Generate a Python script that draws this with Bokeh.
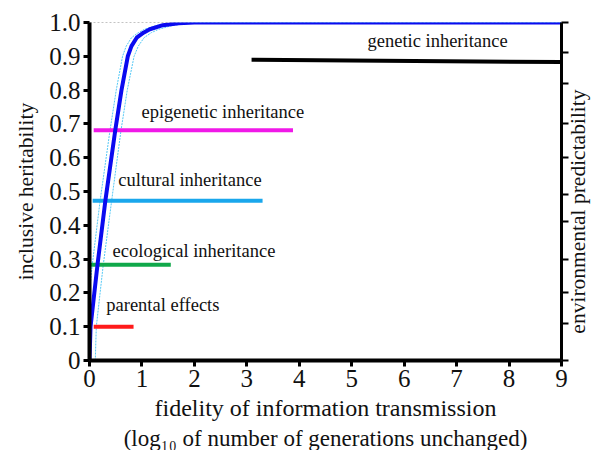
import math
from bokeh.plotting import figure
from bokeh.models import (LinearAxis, FixedTicker, Range1d, Title, ColumnDataSource)
from bokeh.core.properties import value
from bokeh.embed import file_html
from bokeh.resources import INLINE

# ---- data ----
curve_x = [0.0, 0.02, 0.15, 0.30, 0.49, 0.61, 0.73, 0.80, 0.90, 1.03, 1.15, 1.4, 1.7, 2.0, 3.0, 9.0]
curve_y = [0.0, 0.10, 0.28, 0.47, 0.68, 0.80, 0.90, 0.93, 0.955, 0.97, 0.98, 0.992, 0.998, 1.0, 1.0, 1.0]

upper_x = [0.0, 0.05, 0.20, 0.39, 0.51, 0.63, 0.70, 0.80, 0.93, 1.05, 1.3, 1.6, 2.0, 9.0]
upper_y = [0.20, 0.28, 0.47, 0.68, 0.80, 0.90, 0.93, 0.955, 0.97, 0.98, 0.992, 0.998, 1.0, 1.0]

lower_x = [0.11, 0.13, 0.26, 0.42, 0.60, 0.72, 0.85, 0.93, 1.04, 1.18, 1.32, 1.6, 1.95, 2.4, 3.2, 9.0]
lower_y = [0.0, 0.10, 0.28, 0.47, 0.68, 0.80, 0.90, 0.93, 0.955, 0.97, 0.98, 0.992, 0.998, 1.0, 1.0, 1.0]

mech_names = ["parental effects", "ecological inheritance", "cultural inheritance",
              "epigenetic inheritance", "genetic inheritance"]
mech_x0 = [0.08, 0.02, 0.06, 0.08, 3.09]
mech_x1 = [0.84, 1.55, 3.30, 3.88, 8.99]
mech_y0 = [0.10, 0.283, 0.473, 0.681, 0.890]
mech_y1 = [0.10, 0.283, 0.473, 0.681, 0.883]
mech_colors = ["#ff1a1a", "#10a84a", "#1aa7ec", "#f018e8", "#000000"]
label_x = [0.32, 0.44, 0.55, 0.99, 5.30]
label_y = [0.165, 0.325, 0.535, 0.735, 0.945]

y_ticks = [0, 0.1, 0.2, 0.3, 0.4, 0.5, 0.6, 0.7, 0.8, 0.9, 1.0]
x_ticks = [0, 1, 2, 3, 4, 5, 6, 7, 8, 9]
env_ticks = [0, 0.11, 0.2, 0.3, 0.41, 0.49, 0.6, 0.7, 0.82, 0.91, 1.0]

FONT = "Liberation Serif"

p = figure(width=604, height=450, x_range=Range1d(0, 9), y_range=Range1d(0, 1.0),
           output_backend="svg", toolbar_location=None,
           min_border_left=89, min_border_right=42, min_border_top=22, min_border_bottom=30)
p.outline_line_color = None
p.grid.visible = False
p.background_fill_color = "white"
p.border_fill_color = "white"

# dotted reference at 1.0
p.line([0, 9], [1.0, 1.0], line_color="#888888", line_width=1, line_dash="2 2")

# confidence band lines
p.line(upper_x, upper_y, line_color="#55c8f5", line_width=1, line_dash="2 1")
p.line(lower_x, lower_y, line_color="#55c8f5", line_width=1, line_dash="2 1")

# mechanism lines
src = ColumnDataSource(dict(x0=mech_x0, x1=mech_x1, y0=mech_y0, y1=mech_y1, c=mech_colors,
                            lx=label_x, ly=label_y, name=mech_names))
p.segment(x0="x0", y0="y0", x1="x1", y1="y1", line_color="c", line_width=4, source=src)

# main curve
p.line(curve_x, curve_y, line_color="#0a0af0", line_width=4)

p.text(x="lx", y="ly", text="name", source=src, text_font=value(FONT),
       text_font_size="18.5px", text_color="#111111", text_align="left", text_baseline="middle")

# axes styling
for ax in [p.xaxis[0], p.yaxis[0]]:
    ax.axis_line_width = 4
    ax.axis_line_color = "black"
    ax.major_tick_line_width = 3
    ax.major_tick_line_color = "black"
    ax.minor_tick_line_color = None
    ax.major_tick_in = 0
    ax.major_tick_out = 6
    ax.major_label_text_font = FONT
    ax.major_label_text_font_size = "25px"
    ax.major_label_text_color = "#111111"
    ax.axis_label_text_font = FONT
    ax.axis_label_text_font_style = "normal"
    ax.axis_label_text_color = "#111111"

p.xaxis[0].ticker = FixedTicker(ticks=x_ticks)
p.yaxis[0].ticker = FixedTicker(ticks=y_ticks)
p.yaxis[0].major_label_overrides = {0: "0", 1: "1.0"}
p.xaxis[0].major_label_standoff = 3
p.yaxis[0].major_label_standoff = 3
p.yaxis[0].axis_label = "inclusive heritability"
p.yaxis[0].axis_label_text_font_size = "21.5px"
p.yaxis[0].axis_label_standoff = 8
p.xaxis[0].axis_label = "fidelity of information transmission"
p.xaxis[0].axis_label_text_font_size = "24px"
p.xaxis[0].axis_label_standoff = 5

t2 = Title(text="(log\u2081\u2080 of number of generations unchanged)", align="center",
           text_font=FONT, text_font_size="23px", text_font_style="normal",
           text_color="#111111", standoff=0)
p.add_layout(t2, "below")

# right axis (visible line and ticks)
ra = LinearAxis(ticker=FixedTicker(ticks=env_ticks))
ra.axis_line_width = 3
ra.axis_line_color = "black"
ra.major_tick_line_width = 2
ra.major_tick_in = 0
ra.major_tick_out = 7
ra.minor_tick_line_color = None
ra.major_label_text_font_size = "0px"
ra.major_label_text_alpha = 0
ra.major_label_standoff = 0
p.add_layout(ra, "right")

# right axis label (label-only axis); leading no-break spaces lift the text off the bottom
rl = LinearAxis(ticker=FixedTicker(ticks=[]))
rl.axis_line_color = None
rl.major_tick_line_color = None
rl.minor_tick_line_color = None
rl.major_tick_out = 0
rl.major_tick_in = 0
rl.major_label_text_font_size = "0px"
rl.major_label_text_alpha = 0
rl.major_label_standoff = 0
rl.axis_label = "\u00a0" * 5 + "environmental predictability"
rl.axis_label_text_font = FONT
rl.axis_label_text_font_size = "21.5px"
rl.axis_label_text_font_style = "normal"
rl.axis_label_text_color = "#111111"
rl.axis_label_standoff = 9
props = rl.properties()
if "axis_label_orientation" in props:
    rl.axis_label_orientation = math.pi / 2
if "axis_label_align" in props:
    rl.axis_label_align = "start"
p.add_layout(rl, "right")

open("out.html", "w").write(file_html(p, INLINE))
